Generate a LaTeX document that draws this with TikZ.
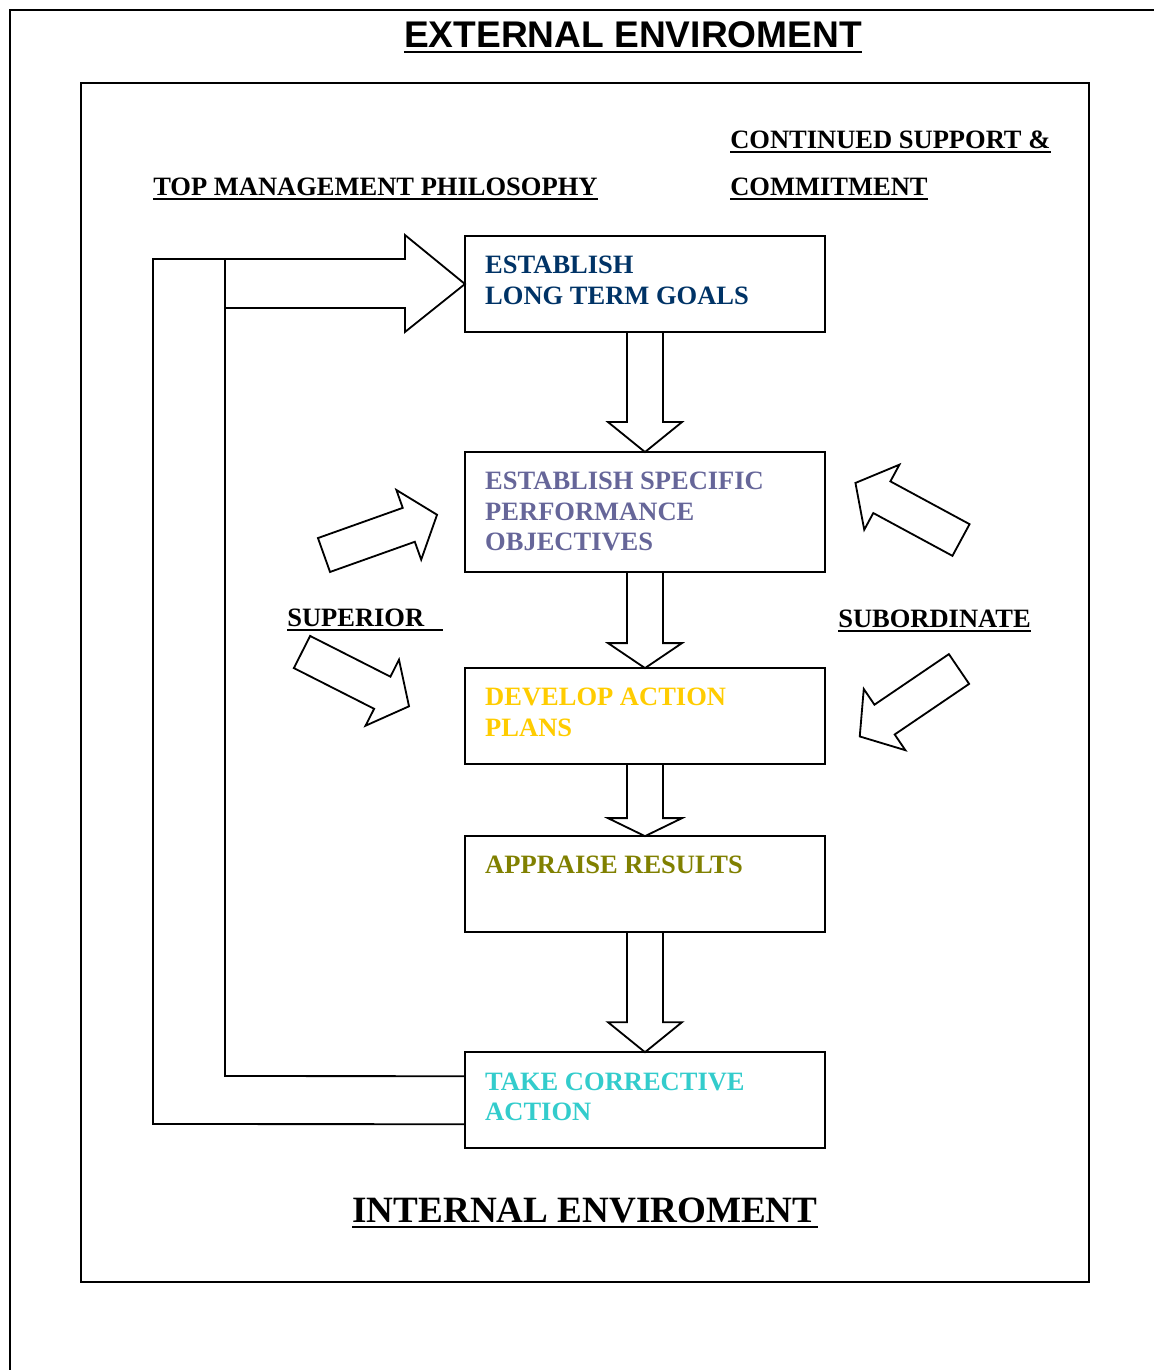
\documentclass[tikz,border=0pt]{standalone}
\usepackage{fontspec}
\setmainfont{Liberation Serif}
\setsansfont{Liberation Sans}
\usetikzlibrary{positioning,calc}
\definecolor{Navy}{HTML}{003366}
\definecolor{Slate}{HTML}{666699}
\definecolor{Gold}{HTML}{FFCC00}
\definecolor{Olive}{HTML}{808000}
\definecolor{Turq}{HTML}{33CCCC}
\newcommand{\boxfont}{\fontsize{18.85pt}{21.6pt}\selectfont\bfseries}
\newcommand{\envfont}{\fontsize{26.4pt}{30pt}\selectfont\bfseries}
\tikzset{
  flowbox/.style={draw,line width=1.3pt,minimum width=9cm,minimum height=2.4cm,inner sep=0pt,outer sep=0pt},
  flowtext/.style={anchor=north west,inner sep=0pt,align=left,font=\boxfont},
  headlabel/.style={anchor=base west,inner sep=0pt,font=\boxfont},
  blockline/.style={draw,line width=1.3pt,line join=miter},
  fatarrow/.pic={\path[blockline] (0,-18) -- (90,-18) -- (90,-37) -- (120,0) -- (90,37) -- (90,18) -- (0,18) -- cycle;}
}

\begin{document}
\begin{tikzpicture}[x=0.025cm,y=-0.025cm]
  \clip (0,0) rectangle (1154,1370);
  % environment frames
  \draw[line width=1pt] (10,10) rectangle (1180,1400);
  \draw[line width=1pt] (81,83) rectangle (1089,1282);

  \node[font=\sffamily\envfont,inner sep=0pt,anchor=base] (external) at (633,47) {EXTERNAL ENVIROMENT};
  \node[font=\envfont,inner sep=0pt,anchor=base] (internal) at (585,1222) {INTERNAL ENVIROMENT};
  \foreach \n in {external,internal}
    \draw[line width=2.1pt] ($(\n.base west)+(0,5)$) -- ($(\n.base east)+(0,5)$);

  \node[headlabel] (topmgmt) at (153,195) {TOP MANAGEMENT PHILOSOPHY};
  \node[headlabel] (support) at (730,148) {CONTINUED SUPPORT \&};
  \node[headlabel] (commit) at (730,195) {COMMITMENT};
  \node[headlabel] (superior) at (287,626) {SUPERIOR};
  \node[headlabel] (subordinate) at (838,627) {SUBORDINATE};
  \foreach \n in {topmgmt,support,commit,subordinate}
    \draw[line width=1.4pt] ($(\n.base west)+(0,4)$) -- ($(\n.base east)+(0,4)$);
  \draw[line width=1.4pt] ($(superior.base west)+(0,4)$) -- ($(superior.base east)+(18,4)$);

  % the five steps
  \node[flowbox] (goals) at (645,284) {};
  \node[flowbox,minimum height=3cm,below=3cm of goals] (objectives) {};
  \node[flowbox,below=2.4cm of objectives] (plans) {};
  \node[flowbox,below=1.8cm of plans] (appraise) {};
  \node[flowbox,below=3cm of appraise] (corrective) {};

  \node[flowtext,text=Navy] (goalstxt) at ($(goals.north west)+(20,20)$) {ESTABLISH\\LONG TERM GOALS};
  \node[flowtext,text=Slate] (objectivestxt) at ($(objectives.north west)+(20,20)$) {ESTABLISH SPECIFIC\\PERFORMANCE\\OBJECTIVES};
  \node[flowtext,text=Gold] (planstxt) at ($(plans.north west)+(20,20)$) {DEVELOP ACTION\\PLANS};
  \node[flowtext,text=Olive] (appraisetxt) at ($(appraise.north west)+(20,20)$) {APPRAISE RESULTS};
  \node[flowtext,text=Turq] (correctivetxt) at ($(corrective.north west)+(20,20)$) {TAKE CORRECTIVE\\ACTION};

  % block arrows between steps
  \foreach \a/\b/\h in {goals/objectives/30,objectives/plans/25,plans/appraise/18,appraise/corrective/30}
    \path[blockline] ($(\a.south)+(-18,0)$) -- ($(\b.north)+(-18,-\h)$) -- ($(\b.north)+(-37,-\h)$)
      -- (\b.north) -- ($(\b.north)+(37,-\h)$) -- ($(\b.north)+(18,-\h)$) -- ($(\a.south)+(18,0)$);

  % feedback loop back to the goals
  \draw[blockline] ($(corrective.west)+(0,24)$) -- (153,1124) -- (153,259)
    -- ($(goals.west)+(-60,-25)$) -- ($(goals.west)+(-60,-49)$) -- (goals.west)
    -- ($(goals.west)+(-60,48)$) -- ($(goals.west)+(-60,24)$) -- (225,308)
    -- (225,1076) -- ($(corrective.west)+(0,-24)$);
  \draw[blockline] (225,259) -- (225,308);

  % superior and subordinate influence
  \pic[rotate=19.6] at (324,555) {fatarrow};
  \pic[rotate=-26.9] at (302,652) {fatarrow};
  \pic[rotate=151.6] at (961,540) {fatarrow};
  \pic[rotate=-145.8] at (959,669) {fatarrow};
\end{tikzpicture}
\end{document}
